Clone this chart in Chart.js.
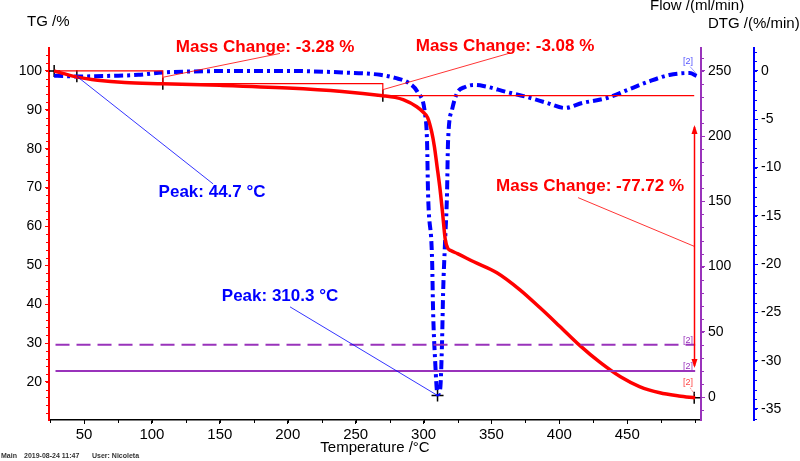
<!DOCTYPE html>
<html>
<head>
<meta charset="utf-8">
<script src="https://cdn.jsdelivr.net/npm/chart.js@4.4.0/dist/chart.umd.min.js"></script>
<style>
  html, body { margin: 0; padding: 0; background: #fff; overflow: hidden; }
</style>
</head>
<body>
<canvas id="chart" width="800" height="461"></canvas>
<script>
// --- DATA ---
// TG curve: temperature (°C) and mass (%)
const tgTemp = [28, 35, 45, 60, 80, 108, 150, 200, 240, 270, 279, 285, 295, 300, 303, 306, 308, 310, 312, 314, 316, 318, 320, 325, 337, 354, 371, 386, 400, 415, 430, 445, 459, 474, 488, 500];
const tgMass = [100, 99.3, 98.4, 97.6, 97.0, 96.72, 96.3, 95.6, 94.7, 93.64, 93.2, 92.6, 90.8, 89.3, 88.0, 84.3, 80.5, 75.3, 70.0, 63.5, 56.6, 54.3, 53.8, 53.0, 50.9, 48.1, 43.7, 39.0, 34.4, 29.4, 25.0, 21.3, 18.8, 17.2, 16.4, 15.92];

// DTG curve: temperature (°C) and rate (%/min)
const dtgTemp = [28, 35, 44.7, 55, 70, 90, 108, 130, 160, 200, 240, 268, 279, 289, 296, 301, 302.6, 303.3, 306.3, 307, 308.5, 310.3, 312.2, 313.6, 314.4, 315.8, 317.3, 318, 321, 324.7, 330.6, 337, 344, 361, 376, 391, 404, 417, 435, 450, 465, 481, 496, 501];
const dtgRate = [-0.5, -0.52, -0.58, -0.55, -0.5, -0.4, -0.15, -0.05, 0.0, 0.0, -0.15, -0.4, -0.72, -1.24, -2.28, -4.35, -7.45, -12.6, -19.6, -24.7, -29.9, -33.5, -33.0, -28.2, -23.0, -17.8, -12.6, -7.45, -4.0, -2.28, -1.66, -1.45, -1.55, -2.17, -2.69, -3.31, -3.83, -3.31, -2.8, -1.97, -1.14, -0.41, -0.21, -0.52];

// purge gas flows (ml/min)
const flowTemp   = [29, 500];
const flowPurge1 = [40, 40];   // dashed
const flowPurge2 = [20, 20];   // solid

// tick labels
const xTicks    = [50, 100, 150, 200, 250, 300, 350, 400, 450];
const tgTicks   = [20, 30, 40, 50, 60, 70, 80, 90, 100];
const flowTicks = [0, 50, 100, 150, 200, 250];
const dtgTicks  = [-35, -30, -25, -20, -15, -10, -5, 0];

// mass change evaluation: step temperatures and levels
const stepTemp   = [28, 108, 270, 499.3];
const stepMass   = [100, 96.72, 93.64, 15.92];
const stepLabels = ['Mass Change: -3.28 %', 'Mass Change: -3.08 %', 'Mass Change: -77.72 %'];
const arrowMass  = [86.1, 23.6];

// peaks on DTG
const peakTemp   = [44.7, 310.3];
const peakRate   = [-0.55, -33.6];
const peakLabels = ['Peak: 44.7 °C', 'Peak: 310.3 °C'];

// label anchors (temperature, TG value) and leader ends
const labelTemp  = [183.3, 360.0, 422.6, 144.3, 194.3];
const labelMass  = [106.2, 106.4, 70.2, 68.9, 41.9];
const leaderTemp = [194.3, 363.7, 413.8, 145.0, 201.7];
const leaderMass = [104.5, 104.6, 67.4, 70.95, 39.3];

const RED = '#ff0000', BLUE = '#0000ff', PURPLE = '#9933bb';
const FONT = "'Liberation Sans', Arial, sans-serif";

Chart.defaults.font.family = FONT;
Chart.defaults.color = '#000';

const pts = (xs, ys) => xs.map((v, i) => ({ x: v, y: ys[i] }));

function minorTicks(ctx, scale, from, to, step, len, color, vertical, side) {
  ctx.strokeStyle = color;
  ctx.lineWidth = 1;
  ctx.beginPath();
  for (let v = from; v <= to + 1e-9; v += step) {
    if (vertical) {
      const y = Math.round(scale.getPixelForValue(v)) + 0.5;
      const x0 = side === 'left' ? scale.right : scale.left;
      ctx.moveTo(x0, y);
      ctx.lineTo(x0 + (side === 'left' ? -len : len), y);
    } else {
      const x = Math.round(scale.getPixelForValue(v)) + 0.5;
      ctx.moveTo(x, scale.top);
      ctx.lineTo(x, scale.top + len);
    }
  }
  ctx.stroke();
}

function arrowHead(ctx, x, y, dir) {
  ctx.beginPath();
  ctx.moveTo(x, y);
  ctx.lineTo(x - 3, y - 9 * dir);
  ctx.lineTo(x + 3, y - 9 * dir);
  ctx.closePath();
  ctx.fill();
}

const overlay = {
  id: 'overlay',
  afterDraw(chart) {
    const { ctx, chartArea, scales: { x, yTG, yFlow, yDTG } } = chart;
    const px = v => x.getPixelForValue(v);
    const py = v => yTG.getPixelForValue(v);
    ctx.save();

    // minor ticks
    minorTicks(ctx, yTG, 12, 104, 2, 3, RED, true, 'left');
    minorTicks(ctx, yFlow, -10, 260, 10, 3, PURPLE, true, 'right');
    minorTicks(ctx, yDTG, -36, 2, 1, 3, BLUE, true, 'right');
    minorTicks(ctx, x, 25, 500, 25, 3, '#000', false);

    // mass change brackets
    ctx.strokeStyle = RED;
    ctx.lineWidth = 1.2;
    for (let i = 0; i < 2; i++) {
      ctx.beginPath();
      ctx.moveTo(px(stepTemp[i]), py(stepMass[i]));
      ctx.lineTo(px(stepTemp[i + 1]), py(stepMass[i]));
      ctx.lineTo(px(stepTemp[i + 1]), py(stepMass[i + 1]));
      ctx.stroke();
    }
    ctx.beginPath();
    ctx.moveTo(px(stepTemp[2]), py(stepMass[2]));
    ctx.lineTo(px(stepTemp[3]), py(stepMass[2]));
    ctx.stroke();

    // double arrow for the big step
    const ax = Math.round(px(stepTemp[3])) + 0.5;
    ctx.lineWidth = 1.5;
    ctx.beginPath();
    ctx.moveTo(ax, py(arrowMass[0]) + 2);
    ctx.lineTo(ax, py(arrowMass[1]) - 2);
    ctx.stroke();
    ctx.fillStyle = RED;
    arrowHead(ctx, ax, py(arrowMass[0]), -1);
    arrowHead(ctx, ax, py(arrowMass[1]), 1);

    // leader lines
    const starts = [
      [px(stepTemp[1]), py((stepMass[0] + stepMass[1]) / 2)],
      [px(stepTemp[2]), py((stepMass[1] + stepMass[2]) / 2)],
      [ax, py((arrowMass[0] + arrowMass[1]) / 2)],
      [px(peakTemp[0]), yDTG.getPixelForValue(peakRate[0])],
      [px(peakTemp[1]), yDTG.getPixelForValue(peakRate[1])]
    ];
    ctx.lineWidth = 0.8;
    starts.forEach((s, i) => {
      ctx.strokeStyle = i < 3 ? RED : BLUE;
      ctx.beginPath();
      ctx.moveTo(s[0], s[1]);
      ctx.lineTo(px(leaderTemp[i]), py(leaderMass[i]));
      ctx.stroke();
    });

    // annotation texts
    ctx.font = 'bold 17px ' + FONT;
    ctx.textAlign = 'center';
    ctx.textBaseline = 'middle';
    const texts = stepLabels.concat(peakLabels);
    texts.forEach((t, i) => {
      ctx.fillStyle = i < 3 ? RED : BLUE;
      ctx.fillText(t, px(labelTemp[i]), py(labelMass[i]));
    });

    // curve tags
    ctx.font = '9px ' + FONT;
    const tagX = px(494.8);
    ctx.fillStyle = '#5555ff';
    ctx.fillText('[2]', tagX, yDTG.getPixelForValue(0.95));
    ctx.fillStyle = PURPLE;
    ctx.fillText('[2]', tagX, yFlow.getPixelForValue(43));
    ctx.fillText('[2]', tagX, yFlow.getPixelForValue(23.5));
    ctx.fillStyle = '#ff4444';
    ctx.fillText('[2]', tagX, py(19.8));
    ctx.lineWidth = 0.6;
    ctx.strokeStyle = '#5555ff';
    ctx.beginPath();
    ctx.moveTo(tagX + 2, yDTG.getPixelForValue(0.45));
    ctx.lineTo(px(dtgTemp[dtgTemp.length - 1]), yDTG.getPixelForValue(-0.3));
    ctx.stroke();
    ctx.strokeStyle = '#ff4444';
    ctx.setLineDash([2, 1]);
    ctx.beginPath();
    ctx.moveTo(tagX + 2, py(18.5));
    ctx.lineTo(px(tgTemp[tgTemp.length - 1]), py(16.6));
    ctx.stroke();
    ctx.setLineDash([]);

    // axis titles
    ctx.fillStyle = '#000';
    ctx.font = '15px ' + FONT;
    ctx.textAlign = 'left';
    ctx.fillText('TG /%', 27, 22);
    ctx.fillText('Flow /(ml/min)', 650, 6);
    ctx.fillText('DTG /(%/min)', 708, 24);
    ctx.textAlign = 'center';
    ctx.fillText('Temperature /°C', (chartArea.left + chartArea.right) / 2, chartArea.bottom + 28);

    // footer
    ctx.font = 'bold 7px ' + FONT;
    ctx.fillStyle = '#333';
    ctx.textAlign = 'left';
    ctx.fillText('Main', 1, 456);
    ctx.fillText('2019-08-24 11:47', 24, 456);
    ctx.fillText('User: Nicoleta', 92, 456);

    ctx.restore();
  }
};

const axisBase = (color, width) => ({
  grid: { drawOnChartArea: false, drawTicks: true, tickLength: 4, color: color, tickColor: color, tickWidth: 1 },
  border: { display: true, color: color, width: width },
  ticks: { color: '#000', font: { size: 14 }, padding: 3 }
});

new Chart(document.getElementById('chart'), {
  type: 'line',
  data: {
    datasets: [
      {
        data: pts(flowTemp, flowPurge1), yAxisID: 'yFlow',
        borderColor: PURPLE, borderWidth: 2, borderDash: [14, 7], pointRadius: 0
      },
      {
        data: pts(flowTemp, flowPurge2), yAxisID: 'yFlow',
        borderColor: PURPLE, borderWidth: 2, pointRadius: 0
      },
      {
        data: pts(tgTemp, tgMass), yAxisID: 'yTG',
        borderColor: RED, borderWidth: 3.5, pointRadius: 0, cubicInterpolationMode: 'monotone'
      },
      {
        data: pts(dtgTemp, dtgRate), yAxisID: 'yDTG',
        borderColor: BLUE, borderWidth: 4, borderDash: [9, 4, 3, 4], pointRadius: 0,
        cubicInterpolationMode: 'monotone'
      },
      {
        data: pts(stepTemp, stepMass), yAxisID: 'yTG', showLine: false,
        pointStyle: 'cross', pointRadius: 6, pointBorderWidth: 1.5, pointBorderColor: '#000'
      },
      {
        data: pts(peakTemp, peakRate), yAxisID: 'yDTG', showLine: false,
        pointStyle: 'cross', pointRadius: 6, pointBorderWidth: 1.5, pointBorderColor: '#000'
      }
    ]
  },
  options: {
    responsive: false,
    animation: false,
    devicePixelRatio: 1,
    layout: { padding: { top: 48, left: 0, right: 0, bottom: 0 } },
    plugins: { legend: { display: false }, tooltip: { enabled: false } },
    scales: {
      x: {
        type: 'linear', position: 'bottom', min: 24.2, max: 504.3,
        ...axisBase('#000', 1.5),
        ticks: { color: '#000', font: { size: 15 }, padding: 2, maxRotation: 0 },
        afterBuildTicks: s => { s.ticks = xTicks.map(v => ({ value: v })); },
        afterFit: s => { s.height = 41; }
      },
      yTG: {
        type: 'linear', position: 'left', min: 10.2, max: 105.9,
        ...axisBase(RED, 2),
        afterBuildTicks: s => { s.ticks = tgTicks.map(v => ({ value: v })); },
        afterFit: s => { s.width = 49; }
      },
      yFlow: {
        type: 'linear', position: 'right', min: -17.6, max: 267.6,
        ...axisBase(PURPLE, 2),
        afterBuildTicks: s => { s.ticks = flowTicks.map(v => ({ value: v })); },
        afterFit: s => { s.width = 53; }
      },
      yDTG: {
        type: 'linear', position: 'right', min: -36.14, max: 2.38,
        ...axisBase(BLUE, 2),
        afterBuildTicks: s => { s.ticks = dtgTicks.map(v => ({ value: v })); },
        afterFit: s => { s.width = 46; }
      }
    }
  },
  plugins: [overlay]
});
</script>
</body>
</html>
